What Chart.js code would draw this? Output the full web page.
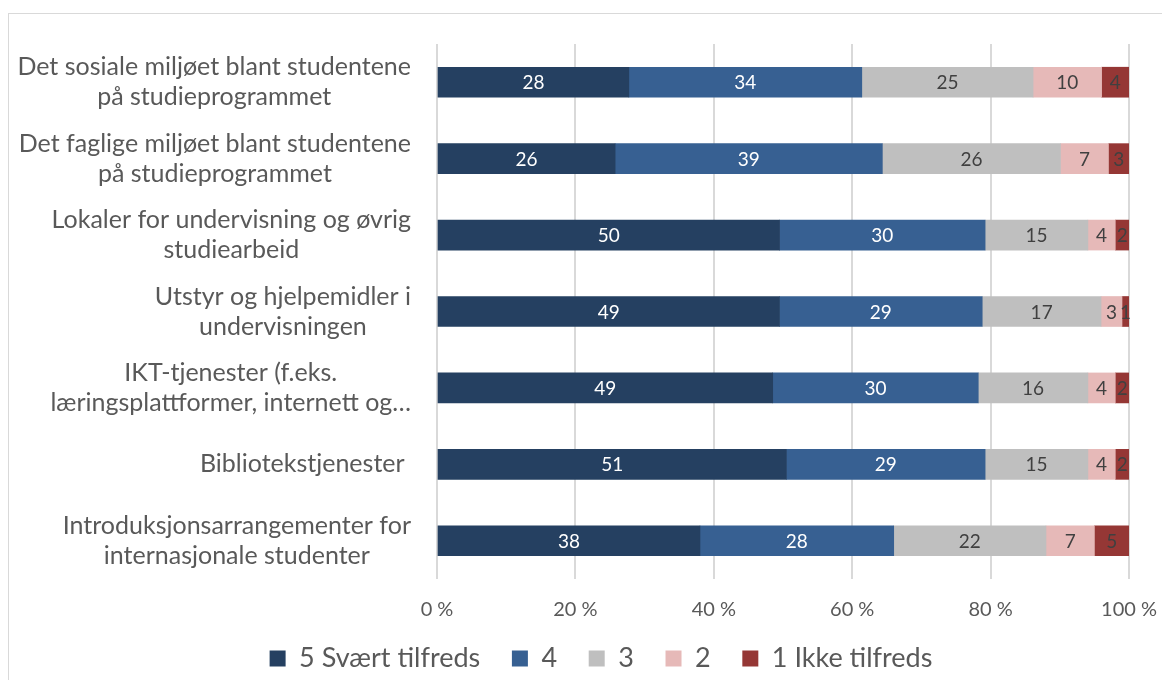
<!DOCTYPE html>
<html>
<head>
<meta charset="utf-8">
<script src="https://cdn.jsdelivr.net/npm/chart.js@4.4.1/dist/chart.umd.min.js"></script>
<style>
  html, body { margin: 0; padding: 0; background: #fff; overflow: hidden; }
  #wrap { position: relative; width: 1162px; height: 680px; }
  #frame { position: absolute; left: 8px; top: 13px; width: 1200px; height: 700px; border: 1px solid #d9d9d9; box-sizing: border-box; pointer-events: none; }
</style>
</head>
<body>
<div id="wrap">
  <canvas id="chart" width="1162" height="680"></canvas>
  <div id="frame"></div>
</div>
<script>
const categories = [
  ["Det sosiale miljøet blant studentene", "på studieprogrammet"],
  ["Det faglige miljøet blant studentene", "på studieprogrammet"],
  ["Lokaler for undervisning og øvrig", "studiearbeid"],
  ["Utstyr og hjelpemidler i", "undervisningen"],
  ["IKT-tjenester (f.eks.", "læringsplattformer, internett og…"],
  ["Bibliotekstjenester "],
  ["Introduksjonsarrangementer for", "internasjonale studenter"],
];
const seriesNames = ["5 Svært tilfreds", "4", "3", "2", "1 Ikke tilfreds"];
const v5 = [28, 26, 50, 49, 49, 51, 38];
const v4 = [34, 39, 30, 29, 30, 29, 28];
const v3 = [25, 26, 15, 17, 16, 15, 22];
const v2 = [10, 7, 4, 3, 4, 4, 7];
const v1 = [4, 3, 2, 1, 2, 2, 5];
const xTicks = [0, 20, 40, 60, 80, 100];

const colors = ["#254061", "#376092", "#bfbfbf", "#e6b9b8", "#953735"];
const labelColors = ["#ffffff", "#ffffff", "#404040", "#404040", "#404040"];
const FONT = "Lato";
const TEXT = "#595959";
const PAD_LEFT = 73;

const series = [v5, v4, v3, v2, v1];
const totals = categories.map((_, i) => series.reduce((s, arr) => s + arr[i], 0));

// etiketter på segmentene
const valueLabels = {
  id: "valueLabels",
  afterDatasetsDraw(chart) {
    const ctx = chart.ctx;
    ctx.save();
    ctx.font = `19px ${FONT}`;
    ctx.textAlign = "center";
    ctx.textBaseline = "middle";
    chart.data.datasets.forEach((ds, di) => {
      chart.getDatasetMeta(di).data.forEach((bar, i) => {
        const p = bar.getProps(["x", "y", "base"], true);
        ctx.fillStyle = labelColors[di];
        ctx.fillText(String(ds.raw[i]), (p.x + p.base) / 2, p.y + 1);
      });
    });
    ctx.restore();
  },
};

// kategorier: høyrejustert blokk, linjene sentrert inni
const categoryLabels = {
  id: "categoryLabels",
  afterDraw(chart) {
    const ctx = chart.ctx;
    const y = chart.scales.y;
    ctx.save();
    ctx.font = `25px ${FONT}`;
    ctx.fillStyle = TEXT;
    ctx.textAlign = "center";
    ctx.textBaseline = "middle";
    const lh = 30;
    categories.forEach((lines, i) => {
      const w = Math.max(...lines.map(l => ctx.measureText(l).width));
      const cx = 411 - w / 2;
      const cy = y.getPixelForValue(i);
      const y0 = cy - (lines.length - 1) * lh / 2;
      lines.forEach((l, k) => ctx.fillText(l, cx, y0 + k * lh));
    });
    ctx.restore();
  },
};

new Chart(document.getElementById("chart"), {
  type: "bar",
  data: {
    labels: categories.map(c => c.join(" ")),
    datasets: series.map((arr, di) => ({
      label: seriesNames[di],
      data: arr.map((v, i) => v / totals[i] * 100),
      raw: arr,
      backgroundColor: colors[di],
      borderWidth: 0,
      barThickness: 30,
    })),
  },
  options: {
    indexAxis: "y",
    responsive: false,
    animation: false,
    layout: { padding: { top: 44, right: 33, left: PAD_LEFT, bottom: -2 } },
    plugins: {
      legend: {
        position: "bottom",
        labels: {
          font: { family: FONT, size: 27 },
          color: TEXT,
          boxWidth: 16,
          boxHeight: 16,
          padding: 4,
          generateLabels: chart =>
            Chart.defaults.plugins.legend.labels.generateLabels(chart)
              .map((l, i, all) => ({ ...l, text: i < all.length - 1 ? l.text + "    " : l.text })),
        },
      },
      tooltip: { enabled: false },
    },
    scales: {
      x: {
        stacked: true,
        min: 0,
        max: 100,
        afterBuildTicks: s => { s.ticks = xTicks.map(v => ({ value: v })); },
        afterFit: s => { s.paddingLeft = 0; s.paddingRight = 0; },
        ticks: {
          callback: v => `${v} %`,
          font: { family: FONT, size: 20 },
          color: TEXT,
          padding: 19,
        },
        grid: { color: "#d9d9d9", lineWidth: 2, drawTicks: false },
        border: { display: false },
      },
      y: {
        stacked: true,
        ticks: { display: false },
        grid: { display: false },
        border: { display: false },
        afterFit: s => { s.width = 437 - PAD_LEFT; },
      },
    },
  },
  plugins: [valueLabels, categoryLabels],
});
</script>
</body>
</html>
